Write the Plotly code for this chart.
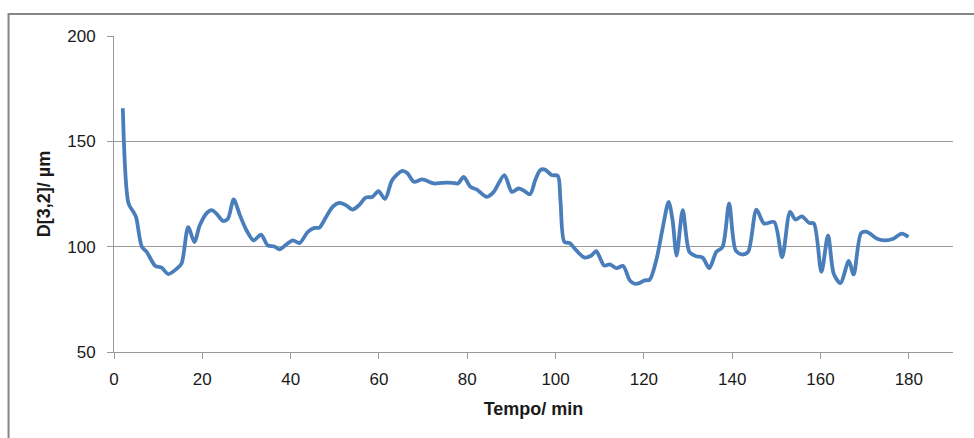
import plotly.graph_objects as go

# Sauter mean diameter D[3,2] over the course of the run
tempo_min = [
    2.0, 3.3, 4.4, 5.0, 6.3, 7.4, 9.3, 10.8, 12.3, 14.2, 15.3, 16.8, 18.2, 19.4,
    20.9, 22.1, 23.2, 24.7, 25.8, 27.1, 28.5, 30.0, 31.6, 33.3, 34.8, 36.3, 37.5,
    39.0, 40.5, 42.0, 43.9, 45.4, 46.5, 48.0, 49.5, 51.0, 52.5, 54.0, 55.5, 57.0,
    58.5, 59.9, 61.4, 63.0, 65.3, 66.4, 67.9, 69.8, 72.4, 74.3, 76.6, 77.9, 79.2,
    80.7, 82.2, 84.4, 86.0, 88.4, 90.1, 91.6, 92.7, 94.2, 95.4, 96.5, 97.6, 99.1,
    100.5, 101.1, 102.0, 103.2, 104.7, 106.6, 108.1, 109.2, 111.0, 112.3, 113.8,
    115.3, 116.8, 117.9, 119.0, 120.2, 121.3, 122.8, 124.3, 125.6, 126.5, 127.4,
    128.8, 130.3, 131.8, 133.3, 134.8, 136.4, 137.8, 139.3, 140.8, 142.3, 143.6,
    145.5, 147.2, 149.5, 151.3, 153.1, 154.3, 155.8, 157.4, 158.5, 160.2, 161.7,
    163.0, 164.5, 166.4, 167.5, 169.2, 170.5, 172.8, 174.6, 176.5, 178.4, 179.9,
]
d32_um = [
    165.7, 120.5, 116.5, 114.0, 100.0, 97.5, 91.0, 90.0, 87.0, 89.5, 92.0, 109.3,
    102.2, 110.0, 115.7, 117.3, 115.7, 112.2, 113.3, 122.4, 115.0, 107.8, 103.0,
    105.7, 100.6, 100.1, 98.7, 101.0, 103.0, 101.7, 107.0, 108.9, 109.0, 114.0,
    118.9, 120.8, 119.7, 117.6, 119.7, 123.3, 123.6, 126.3, 122.7, 131.6, 136.0,
    135.0, 130.8, 131.9, 130.0, 130.3, 130.3, 130.0, 133.1, 128.4, 127.1, 123.6,
    126.0, 134.0, 126.0, 127.6, 126.8, 124.9, 131.6, 136.3, 136.6, 134.0, 133.6,
    122.0, 102.2, 101.7, 98.2, 94.8, 95.8, 97.9, 91.0, 91.6, 89.8, 90.8, 84.0,
    82.4, 82.7, 84.0, 84.3, 93.5, 109.3, 121.2, 112.5, 95.8, 117.3, 97.5, 95.5,
    94.8, 89.8, 97.5, 99.8, 120.5, 98.2, 96.3, 97.5, 117.6, 111.0, 111.7, 95.0,
    116.5, 112.9, 114.4, 111.3, 111.0, 88.0, 105.4, 87.1, 82.7, 93.2, 86.8, 106.5,
    107.0, 103.8, 103.0, 103.8, 106.2, 104.6,
]

x_ticks = [0, 20, 40, 60, 80, 100, 120, 140, 160, 180]
y_ticks = [50, 100, 150, 200]

FONT = "Liberation Sans, Arial, sans-serif"
GRID = "#9a9a9a"

fig = go.Figure(
    go.Scatter(
        x=tempo_min,
        y=d32_um,
        mode="lines",
        line=dict(color="#4a7ebb", width=3.8, shape="spline", smoothing=0.8),
        showlegend=False,
    )
)

fig.update_layout(
    width=974,
    height=438,
    margin=dict(l=114, r=21, t=36, b=86),
    paper_bgcolor="white",
    plot_bgcolor="white",
    font=dict(family=FONT, size=17, color="#1a1a1a"),
    xaxis=dict(
        range=[0, 190],
        tickvals=x_ticks,
        showgrid=False,
        zeroline=False,
        showline=True,
        linecolor=GRID,
        linewidth=1,
        ticks="outside",
        ticklen=6,
        tickcolor=GRID,
        ticklabelstandoff=6,
        title=dict(text="<b>Tempo/ min</b>", font=dict(size=18), standoff=13),
    ),
    yaxis=dict(
        range=[50, 200],
        tickvals=y_ticks,
        showgrid=True,
        gridcolor=GRID,
        gridwidth=1,
        zeroline=False,
        showline=True,
        linecolor=GRID,
        linewidth=1,
        ticks="outside",
        ticklen=6,
        tickcolor=GRID,
        ticklabelstandoff=8,
        title=dict(text="<b>D[3,2]/ µm</b>", font=dict(size=18), standoff=11),
    ),
    shapes=[
        # chart-area frame, running off the right and bottom edges
        dict(
            type="rect",
            xref="paper",
            yref="paper",
            x0=-0.1257,
            x1=1.04,
            y0=-0.32,
            y1=1.0695,
            line=dict(color="#868686", width=2),
            fillcolor="rgba(0,0,0,0)",
            layer="below",
        )
    ],
)

fig.write_html("out.html")
